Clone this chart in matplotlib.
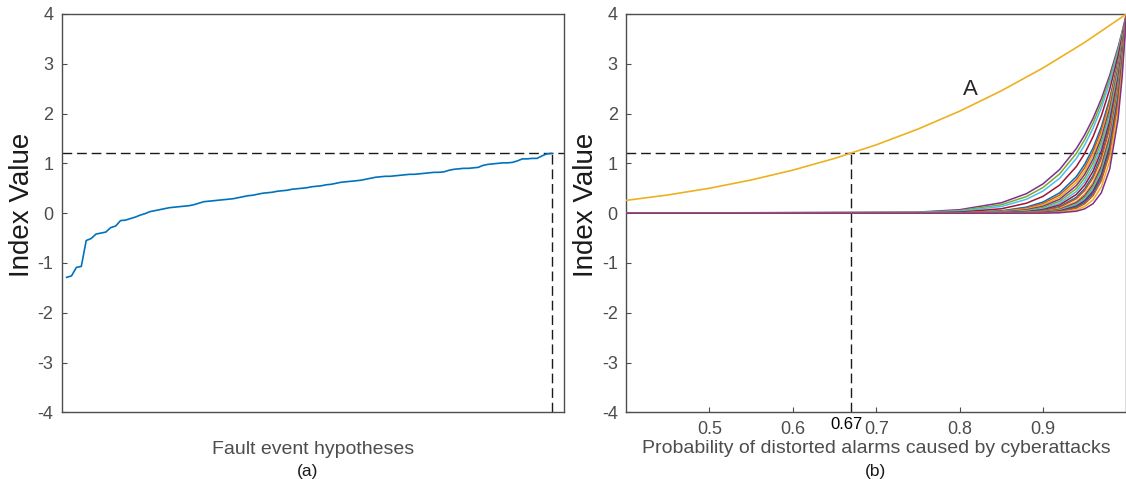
import numpy as np
import matplotlib
matplotlib.use("Agg")
import matplotlib.pyplot as plt

plt.rcParams['font.family'] = ['Liberation Sans', 'DejaVu Sans']
plt.rcParams['axes.unicode_minus'] = False

# ---------------- data ----------------
# (a) sorted index values of fault event hypotheses
index_values = [
    -1.29, -1.26, -1.09, -1.07, -0.55, -0.51, -0.42, -0.40, -0.38, -0.29,
    -0.26, -0.15, -0.14, -0.11, -0.08, -0.04, -0.01, 0.03, 0.05, 0.07,
    0.09, 0.11, 0.12, 0.13, 0.14, 0.15, 0.17, 0.20, 0.23, 0.24,
    0.25, 0.26, 0.27, 0.28, 0.29, 0.31, 0.33, 0.35, 0.36, 0.38,
    0.40, 0.41, 0.42, 0.44, 0.45, 0.46, 0.48, 0.49, 0.50, 0.51,
    0.53, 0.54, 0.55, 0.57, 0.58, 0.60, 0.62, 0.63, 0.64, 0.65,
    0.66, 0.68, 0.70, 0.72, 0.73, 0.74, 0.74, 0.75, 0.76, 0.77,
    0.78, 0.78, 0.79, 0.80, 0.81, 0.82, 0.82, 0.83, 0.86, 0.88,
    0.89, 0.90, 0.90, 0.91, 0.92, 0.96, 0.98, 0.99, 1.00, 1.01,
    1.01, 1.02, 1.05, 1.09, 1.09, 1.10, 1.10, 1.15, 1.19, 1.20,
]
hypothesis_index = list(range(1, len(index_values) + 1))

threshold = 1.2
p_threshold = 0.67

# (b) curve A
prob_A = [0.40, 0.45, 0.50, 0.55, 0.60, 0.65, 0.70, 0.75, 0.80, 0.85, 0.90, 0.95, 1.00]
index_A = [0.256, 0.365, 0.500, 0.666, 0.864, 1.099, 1.372, 1.688, 2.048, 2.457, 2.916, 3.430, 4.000]

# (b) other hypotheses
prob_grid = [0.40, 0.75, 0.80, 0.85, 0.88, 0.90, 0.92, 0.94, 0.95, 0.96, 0.97, 0.98, 0.99, 0.995, 1.00]
c01 = [0, 0.021, 0.069, 0.208, 0.390, 0.588, 0.877, 1.297, 1.573, 1.903, 2.298, 2.770, 3.331, 3.651, 4.0]
c02 = [0, 0.015, 0.052, 0.169, 0.332, 0.515, 0.790, 1.200, 1.475, 1.808, 2.211, 2.700, 3.289, 3.628, 4.0]
c03 = [0, 0.010, 0.038, 0.134, 0.277, 0.443, 0.701, 1.098, 1.370, 1.705, 2.117, 2.623, 3.242, 3.602, 4.0]
c04 = [0, 0.005, 0.021, 0.088, 0.199, 0.337, 0.565, 0.936, 1.200, 1.535, 1.957, 2.490, 3.160, 3.556, 4.0]
c05 = [0, 0.002, 0.009, 0.047, 0.121, 0.223, 0.408, 0.734, 0.982, 1.308, 1.737, 2.300, 3.038, 3.487, 4.0]
c06 = [0, 0.001, 0.007, 0.037, 0.101, 0.193, 0.364, 0.675, 0.915, 1.236, 1.666, 2.238, 2.996, 3.463, 4.0]
c07 = [0, 0.001, 0.005, 0.029, 0.083, 0.165, 0.321, 0.615, 0.847, 1.163, 1.591, 2.170, 2.951, 3.437, 4.0]
c08 = [0, 0.000, 0.003, 0.022, 0.067, 0.138, 0.279, 0.555, 0.778, 1.086, 1.512, 2.099, 2.902, 3.408, 4.0]
c09 = [0, 0.000, 0.002, 0.016, 0.053, 0.114, 0.239, 0.494, 0.707, 1.007, 1.429, 2.021, 2.848, 3.377, 4.0]
c10 = [0, 0.000, 0.001, 0.012, 0.041, 0.091, 0.201, 0.434, 0.635, 0.925, 1.341, 1.938, 2.789, 3.342, 4.0]
c11 = [0, 0.000, 0.001, 0.008, 0.030, 0.071, 0.165, 0.376, 0.563, 0.840, 1.248, 1.848, 2.724, 3.302, 4.0]
c12 = [0, 0.000, 0.000, 0.005, 0.021, 0.054, 0.132, 0.318, 0.491, 0.753, 1.150, 1.750, 2.652, 3.258, 4.0]
c13 = [0, 0.000, 0.000, 0.004, 0.018, 0.046, 0.117, 0.290, 0.455, 0.709, 1.100, 1.699, 2.612, 3.234, 4.0]
c14 = [0, 0.000, 0.000, 0.002, 0.012, 0.032, 0.089, 0.237, 0.384, 0.619, 0.994, 1.589, 2.527, 3.181, 4.0]
c15 = [0, 0.000, 0.000, 0.002, 0.009, 0.027, 0.076, 0.211, 0.349, 0.574, 0.940, 1.531, 2.480, 3.152, 4.0]
c16 = [0, 0.000, 0.000, 0.001, 0.007, 0.022, 0.064, 0.186, 0.315, 0.529, 0.884, 1.470, 2.431, 3.120, 4.0]
c17 = [0, 0.000, 0.000, 0.001, 0.005, 0.017, 0.054, 0.163, 0.282, 0.484, 0.827, 1.407, 2.378, 3.086, 4.0]
c18 = [0, 0.000, 0.000, 0.001, 0.004, 0.013, 0.044, 0.140, 0.249, 0.439, 0.769, 1.341, 2.322, 3.050, 4.0]
c19 = [0, 0.000, 0.000, 0.000, 0.003, 0.010, 0.035, 0.120, 0.218, 0.395, 0.710, 1.272, 2.262, 3.010, 4.0]
c20 = [0, 0.000, 0.000, 0.000, 0.002, 0.008, 0.028, 0.100, 0.188, 0.351, 0.651, 1.200, 2.198, 2.967, 4.0]
c21 = [0, 0.000, 0.000, 0.000, 0.001, 0.004, 0.016, 0.066, 0.134, 0.267, 0.531, 1.048, 2.055, 2.869, 4.0]
c22 = [0, 0.000, 0.000, 0.000, 0.000, 0.002, 0.008, 0.039, 0.087, 0.190, 0.412, 0.886, 1.889, 2.751, 4.0]
family = [c01, c02, c03, c04, c05, c06, c07, c08, c09, c10, c11,
          c12, c13, c14, c15, c16, c17, c18, c19, c20, c21, c22]

y_ticks = [-4, -3, -2, -1, 0, 1, 2, 3, 4]
x_ticks_b = [0.5, 0.6, 0.7, 0.8, 0.9]

# ---------------- style ----------------
matlab = ['#0072BD', '#D95319', '#EDB120', '#7E2F8E', '#77AC30', '#4DBEEE', '#A2142F']
axis_col = '#4d4d4d'
tick_col = '#4d4d4d'
W, H = 1126, 479

fig = plt.figure(figsize=(W / 100, H / 100), dpi=100)

def px_rect(x0, x1, ytop, ybot):
    return [x0 / W, 1 - ybot / H, (x1 - x0) / W, (ybot - ytop) / H]

axL = fig.add_axes(px_rect(61.7, 563.5, 14, 412.3))
axR = fig.add_axes(px_rect(626, 1126.4, 14, 412.3))

for ax in (axL, axR):
    for s in ax.spines.values():
        s.set_color(axis_col)
        s.set_linewidth(1.0)
    ax.set_ylim(-4, 4)
    ax.set_yticks(y_ticks)
    ax.set_yticklabels([str(t) for t in y_ticks])
    ax.tick_params(direction='in', length=3.5, width=0.8, colors=axis_col,
                   labelcolor=tick_col, labelsize=13, pad=6)
    ax.tick_params(axis='x', top=False)
    ax.tick_params(axis='y', right=False)

dash = (0, (7, 3.5))

# ---- (a) ----
axL.plot(hypothesis_index, index_values, color=matlab[0], lw=1.2, zorder=3)
axL.set_xlim(0, 102.4)
axL.set_xticks([])
axL.axhline(threshold, color='#1a1a1a', lw=1.0, linestyle=dash, zorder=2)
axL.plot([hypothesis_index[-1], hypothesis_index[-1]], [-4, threshold],
         color='#1a1a1a', lw=1.0, linestyle=dash, zorder=2)

# ---- (b) ----
for i, cv in enumerate(family):
    axR.plot(prob_grid, cv, color=matlab[(3 + i) % 7], lw=1.1, zorder=3)
axR.plot(prob_A, index_A, color=matlab[2], lw=1.2, zorder=3)
axR.set_xlim(0.4, 1.0)
axR.set_xticks(x_ticks_b)
axR.set_xticklabels([f'{t:.1f}' for t in x_ticks_b])
axR.axhline(threshold, color='#1a1a1a', lw=1.0, linestyle=dash, zorder=2)
axR.plot([p_threshold, p_threshold], [-4, threshold],
         color='#1a1a1a', lw=1.0, linestyle=dash, zorder=2)
axR.text(0.813, 2.48, 'A', fontsize=16, color='#262626', ha='center', va='center')
axR.text(p_threshold - 0.006, -4.1, f'{p_threshold:.2f}', fontsize=12, color='#000000',
         ha='center', va='top')

# ---- labels ----
fig.text(22 / W, 1 - 205 / H, 'Index Value', rotation=90, fontsize=20,
         color='#1a1a1a', ha='center', va='center')
fig.text(586 / W, 1 - 205 / H, 'Index Value', rotation=90, fontsize=20,
         color='#1a1a1a', ha='center', va='center')
fig.text(312.6 / W, 1 - 454 / H, 'Fault event hypotheses', fontsize=14,
         color=tick_col, ha='center', va='baseline')
fig.text(876 / W, 1 - 453 / H, 'Probability of distorted alarms caused by cyberattacks',
         fontsize=14, color=tick_col, ha='center', va='baseline')
fig.text(308 / W, 1 - 471.5 / H, '(a)', fontsize=12.5, color='#1a1a1a',
         ha='center', va='center')
fig.text(876 / W, 1 - 471.5 / H, '(b)', fontsize=12.5, color='#1a1a1a',
         ha='center', va='center')

fig.savefig('out.png', dpi=100)
